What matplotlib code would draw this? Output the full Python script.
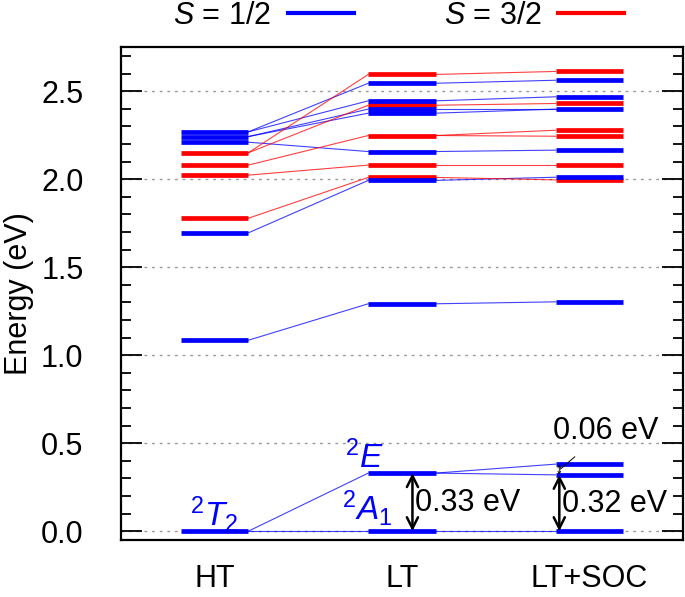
import numpy as np
import matplotlib
matplotlib.use("Agg")
import matplotlib.pyplot as plt
from matplotlib.lines import Line2D
from matplotlib.ticker import MultipleLocator, FormatStrFormatter

plt.rcParams['font.family'] = ['Liberation Sans', 'DejaVu Sans']
plt.rcParams['mathtext.fontset'] = 'custom'
plt.rcParams['mathtext.rm'] = 'Liberation Sans'
plt.rcParams['mathtext.it'] = 'Liberation Sans:italic'

# columns
stages = ["HT", "LT", "LT+SOC"]

# energy levels (eV)
ht_blue = [0.0, 1.085, 1.695, 2.210, 2.242, 2.269]
ht_red = [1.778, 2.023, 2.080, 2.150]
lt_blue = [0.0, 0.33, 1.292, 1.993, 2.157, 2.375, 2.398, 2.445, 2.545]
lt_red = [2.010, 2.080, 2.248, 2.420, 2.595]
soc_blue = [0.0, 0.320, 0.381, 1.303, 2.011, 2.165, 2.398, 2.468, 2.562]
soc_red = [1.996, 2.080, 2.244, 2.278, 2.430, 2.612]

# correlation lines (from level, to level)
ht_lt_blue = [(0.0, 0.0), (0.0, 0.33), (1.085, 1.292), (1.695, 1.993),
              (2.210, 2.157), (2.242, 2.375), (2.242, 2.398),
              (2.269, 2.445), (2.269, 2.545)]
ht_lt_red = [(1.778, 2.010), (2.023, 2.080), (2.080, 2.248),
             (2.150, 2.420), (2.150, 2.595)]
lt_soc_blue = [(0.0, 0.0), (0.33, 0.320), (0.33, 0.381), (1.292, 1.303),
               (1.993, 2.011), (2.157, 2.165), (2.375, 2.398),
               (2.398, 2.398), (2.445, 2.468), (2.545, 2.562)]
lt_soc_red = [(2.010, 1.996), (2.080, 2.080), (2.248, 2.244),
              (2.248, 2.278), (2.420, 2.430), (2.595, 2.612)]

BLUE = "#0000ff"
RED = "#ff0000"
hw = 0.18  # half width of a level bar
FS = 22

fig = plt.figure(figsize=(6.85, 5.97), dpi=100)
ax = fig.add_axes([0.1766, 0.0955, 0.8204, 0.8255])

# grid
for y in np.arange(0, 2.51, 0.5):
    ax.axhline(y, color="#999999", lw=1.0, dashes=(2, 3.5), zorder=0)

# connecting lines
def connect(x0, pairs, color):
    for a, b in pairs:
        ax.plot([x0 + hw, x0 + 1 - hw], [a, b], color=color, lw=0.8,
                alpha=0.75, zorder=1)

connect(0, ht_lt_blue, BLUE)
connect(0, ht_lt_red, RED)
connect(1, lt_soc_blue, BLUE)
connect(1, lt_soc_red, RED)

# level bars
for x, blues, reds in [(0, ht_blue, ht_red), (1, lt_blue, lt_red),
                       (2, soc_blue, soc_red)]:
    ax.hlines(reds, x - hw, x + hw, color=RED, lw=3.4, zorder=2)
    ax.hlines(blues, x - hw, x + hw, color=BLUE, lw=3.4, zorder=3)

# state labels
ax.text(0, 0.03, r'$^2T_2$', color=BLUE, fontsize=24, ha='center', va='baseline')
ax.text(0.8, 0.36, r'$^2E$', color=BLUE, fontsize=24, ha='center', va='baseline')
ax.text(0.815, 0.065, r'$^2A_1$', color=BLUE, fontsize=24, ha='center', va='baseline')

# gap arrows
ax.annotate('', xy=(1.056, 0.0), xytext=(1.056, 0.33),
            arrowprops=dict(arrowstyle='<->', lw=1.8, color='black',
                            shrinkA=0, shrinkB=0, mutation_scale=20))
ax.text(1.072, 0.16, '0.33 eV', fontsize=FS, ha='left', va='center')
ax.annotate('', xy=(1.84, 0.0), xytext=(1.84, 0.320),
            arrowprops=dict(arrowstyle='<->', lw=1.8, color='black',
                            shrinkA=0, shrinkB=0, mutation_scale=20))
ax.text(1.852, 0.155, '0.32 eV', fontsize=FS, ha='left', va='center')
ax.annotate('', xy=(1.84, 0.320), xytext=(1.84, 0.381),
            arrowprops=dict(arrowstyle='<->', lw=0.6, color='black',
                            shrinkA=0, shrinkB=0, mutation_scale=5))
ax.annotate('0.06 eV', xy=(1.845, 0.352), xytext=(2.085, 0.57),
            fontsize=FS, ha='center', va='center',
            arrowprops=dict(arrowstyle='-', lw=0.7, color='black',
                            shrinkA=9, shrinkB=0))

# axes
ax.set_xlim(-0.5, 2.5)
ax.set_ylim(-0.05, 2.75)
ax.set_xticks(range(len(stages)))
ax.set_xticklabels(stages)
ax.yaxis.set_major_locator(MultipleLocator(0.5))
ax.yaxis.set_minor_locator(MultipleLocator(0.1))
ax.yaxis.set_major_formatter(FormatStrFormatter('%.1f'))
ax.tick_params(axis='x', length=0, pad=17, labelsize=FS)
ax.tick_params(axis='y', which='major', direction='in', length=15, width=1.3,
               right=True, pad=27, labelsize=FS)
ax.tick_params(axis='y', which='minor', direction='in', length=7.5, width=1.3,
               right=True)
for s in ax.spines.values():
    s.set_linewidth(1.6)
ax.set_ylabel('Energy (eV)', fontsize=FS, labelpad=5)

# legend
handles = [Line2D([], [], color=BLUE, lw=3), Line2D([], [], color=RED, lw=3)]
fig.legend(handles, [r'$S$ = 1/2', r'$S$ = 3/2'], ncol=2, markerfirst=False,
           frameon=False, fontsize=FS, loc='center',
           bbox_to_anchor=(0.582, 0.973), handlelength=2.16,
           handletextpad=0.55, columnspacing=2.95)

fig.savefig('out.png', dpi=100)
